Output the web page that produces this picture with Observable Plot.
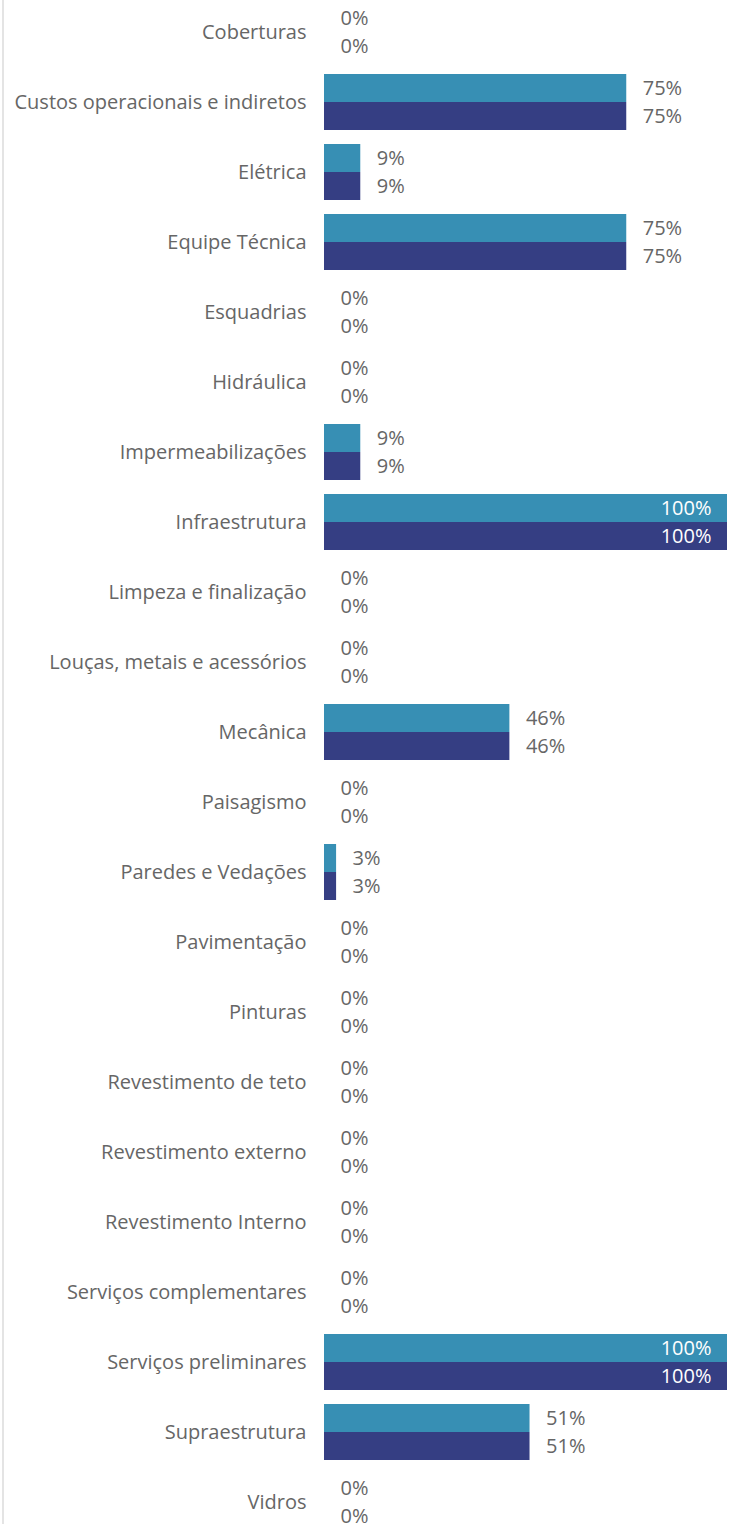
<!DOCTYPE html>
<html>
<head>
<meta charset="utf-8">
<script src="https://cdn.jsdelivr.net/npm/d3@7"></script>
<script src="https://cdn.jsdelivr.net/npm/@observablehq/plot@0.6"></script>
<style>
  html, body { margin: 0; padding: 0; background: #fff; overflow: hidden; }
  #wrap { position: relative; width: 734px; height: 1524px; overflow: hidden; }
  #edge { position: absolute; left: 2px; top: 0; width: 2px; height: 1524px; background: #e4e4e4; }
  #chart { position: absolute; left: 0; top: 0; }
  #chart svg { font-family: "Segoe UI", "Open Sans", sans-serif; overflow: visible; }
</style>
</head>
<body>
<div id="wrap"><div id="edge"></div><div id="chart"></div></div>
<script>
const categories = [
  "Coberturas", "Custos operacionais e indiretos", "Elétrica", "Equipe Técnica",
  "Esquadrias", "Hidráulica", "Impermeabilizações", "Infraestrutura",
  "Limpeza e finalização", "Louças, metais e acessórios", "Mecânica", "Paisagismo",
  "Paredes e Vedações", "Pavimentação", "Pinturas", "Revestimento de teto",
  "Revestimento externo", "Revestimento Interno", "Serviços complementares",
  "Serviços preliminares", "Supraestrutura", "Vidros"
];
const seriesNames = ["Previsto", "Realizado"];
const seriesA = [0, 75, 9, 75, 0, 0, 9, 100, 0, 0, 46, 0, 3, 0, 0, 0, 0, 0, 0, 100, 51, 0];
const seriesB = [0, 75, 9, 75, 0, 0, 9, 100, 0, 0, 46, 0, 3, 0, 0, 0, 0, 0, 0, 100, 51, 0];
const colors = ["#378fb4", "#353e83"];

const data = [];
categories.forEach((c, i) => {
  data.push({category: c, series: seriesNames[0], value: seriesA[i]});
  data.push({category: c, series: seriesNames[1], value: seriesB[i]});
});

const chart = Plot.plot({
  width: 734,
  height: 1530,
  marginTop: 4,
  marginBottom: 0,
  marginLeft: 324,
  marginRight: 7,
  style: {fontSize: "20px", color: "#666", background: "transparent", overflow: "visible"},
  x: {domain: [0, 100], axis: null},
  fy: {domain: categories, paddingInner: 0.2, paddingOuter: 0, label: null, axis: null},
  y: {domain: seriesNames, padding: 0, axis: null},
  color: {domain: seriesNames, range: colors},
  marks: [
    Plot.axisFy({anchor: "left", tickSize: 0, tickPadding: 18, label: null, fontSize: 20, fill: "#666"}),
    Plot.barX(data, {fy: "category", y: "series", x: "value", fill: "series"}),
    Plot.text(data.filter(d => d.value < 90), {
      fy: "category", y: "series", x: "value", text: d => d.value + "%",
      textAnchor: "start", dx: 16, fill: "#666", fontSize: 20
    }),
    Plot.text(data.filter(d => d.value >= 90), {
      fy: "category", y: "series", x: "value", text: d => d.value + "%",
      textAnchor: "end", dx: -16, fill: "#fff", fontSize: 20
    })
  ]
});
document.getElementById("chart").appendChild(chart);
</script>
</body>
</html>
